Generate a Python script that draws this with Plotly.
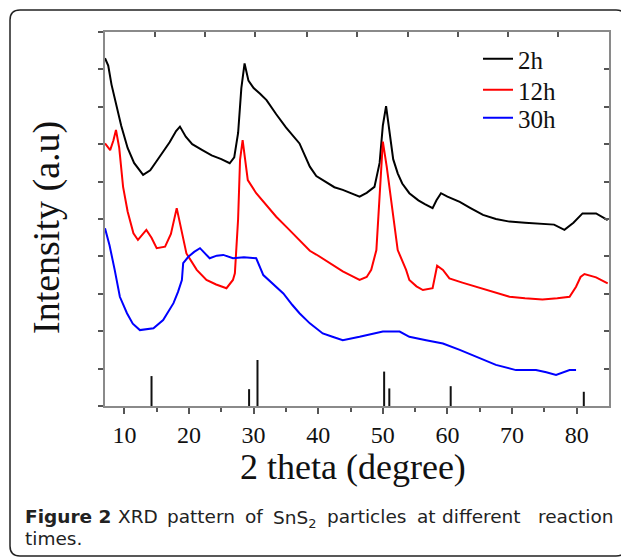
import plotly.graph_objects as go

# ---- data ----
x_2h = [7.0, 7.5, 8.0, 8.8, 9.5, 10.5, 11.5, 12.9, 14.0, 15.0, 16.0, 17.0, 18.0, 18.6, 19.5, 20.5,
        22.0, 23.5, 25.0, 26.3, 27.0, 27.6, 28.1, 28.6, 29.2, 30.0, 31.0, 32.0, 33.5, 35.0, 37.1,
        38.7, 39.7, 41.0, 42.5, 43.8, 45.0, 46.4, 47.5, 48.7, 49.5, 50.0, 50.5, 51.0, 51.6, 52.3,
        53.0, 54.1, 55.5, 56.5, 57.7, 58.3, 59.0, 60.0, 61.9, 63.5, 65.5, 67.5, 69.6, 72.0, 74.7,
        76.5, 78.1, 79.5, 80.9, 83.0, 84.8]
y_2h = [9.30, 9.10, 8.60, 8.00, 7.50, 6.90, 6.50, 6.18, 6.30, 6.55, 6.80, 7.05, 7.35, 7.47, 7.20, 7.00,
        6.85, 6.70, 6.60, 6.49, 6.65, 7.30, 8.50, 9.16, 8.70, 8.50, 8.35, 8.18, 7.80, 7.45, 7.02,
        6.40, 6.15, 6.00, 5.85, 5.78, 5.70, 5.60, 5.70, 5.86, 6.50, 7.50, 8.02, 7.30, 6.60, 6.22,
        5.95, 5.69, 5.50, 5.40, 5.29, 5.50, 5.69, 5.60, 5.46, 5.30, 5.11, 5.00, 4.93, 4.90, 4.88,
        4.85, 4.71, 4.90, 5.15, 5.15, 4.97]

x_12h = [7.0, 7.8, 8.3, 8.7, 9.2, 9.8, 10.5, 11.4, 12.1, 12.8, 13.4, 14.2, 15.0, 16.3, 17.2, 18.1,
         18.8, 19.6, 21.2, 22.7, 24.2, 25.8, 26.8, 27.1, 27.6, 27.9, 28.3, 29.1, 30.4, 32.0, 33.5,
         35.3, 37.1, 38.7, 39.7, 41.8, 43.8, 45.4, 46.4, 47.5, 48.2, 49.0, 49.5, 50.0, 50.6, 51.3,
         52.3, 53.6, 54.1, 55.2, 56.2, 57.7, 58.1, 58.4, 59.3, 60.3, 62.3, 64.4, 67.0, 69.6, 72.0,
         74.7, 77.0, 78.9, 79.9, 80.6, 81.2, 83.0, 84.8]
y_12h = [7.02, 6.84, 7.10, 7.38, 6.90, 5.86, 5.20, 4.62, 4.44, 4.60, 4.71, 4.50, 4.22, 4.26, 4.60, 5.29,
         4.70, 4.08, 3.64, 3.37, 3.25, 3.15, 3.37, 3.55, 5.00, 6.58, 7.11, 6.04, 5.69, 5.35, 5.06,
         4.75, 4.44, 4.15, 4.05, 3.82, 3.60, 3.46, 3.37, 3.45, 3.64, 4.17, 5.50, 7.07, 6.40, 5.51,
         4.17, 3.64, 3.37, 3.20, 3.10, 3.15, 3.50, 3.75, 3.64, 3.41, 3.30, 3.19, 3.05, 2.92, 2.88,
         2.85, 2.88, 2.92, 3.19, 3.45, 3.53, 3.44, 3.28]

x_30h = [7.0, 7.7, 8.5, 9.3, 10.4, 11.3, 12.4, 13.5, 14.5, 16.0, 17.6, 18.3, 18.9, 19.1, 19.9, 20.8,
         21.7, 23.2, 24.3, 25.3, 26.8, 28.5, 30.4, 31.5, 32.0, 33.3, 34.6, 36.0, 37.1, 38.7, 40.7,
         42.2, 43.8, 46.4, 48.3, 50.0, 52.6, 54.1, 56.7, 59.3, 61.9, 64.4, 66.0, 67.5, 70.6, 73.7,
         75.3, 76.8, 78.9, 79.9]
y_30h = [4.75, 4.30, 3.64, 2.92, 2.48, 2.20, 2.03, 2.05, 2.08, 2.30, 2.75, 3.05, 3.37, 3.82, 3.99, 4.12,
         4.22, 3.95, 4.02, 4.04, 3.95, 3.98, 3.95, 3.50, 3.42, 3.20, 3.01, 2.70, 2.48, 2.21, 1.94,
         1.85, 1.76, 1.85, 1.92, 1.99, 1.99, 1.85, 1.76, 1.67, 1.50, 1.32, 1.20, 1.10, 0.96, 0.96,
         0.90, 0.83, 0.96, 0.96]

ref_pos = [14.2, 29.3, 30.6, 50.2, 51.0, 60.5, 81.1]
ref_height = [0.80, 0.45, 1.23, 0.92, 0.47, 0.53, 0.38]

x_tick_vals = [10, 20, 30, 40, 50, 60, 70, 80]
x_tick_text = ["10", "20", "30", "40", "50", "60", "70", "80"]
x_minor_vals = [15, 25, 35, 45, 55, 65, 75]
top_tick_vals = [14.74, 22.47, 30.21, 38.2, 45.95, 53.85, 61.63, 69.4, 77.1]

series_names = ["2h", "12h", "30h"]
series_colors = ["#000000", "#ff0000", "#0000ff"]

caption_words = ["<b>Figure 2</b>", "XRD", "pattern", "of", "SnS<sub>2</sub>",
                 "particles", "at", "different", "reaction"]
caption_line2 = "times."

# ---- layout geometry (page pixels; page body adds an 8 px offset) ----
OFF = 8
W, H = 629 - OFF, 558 - OFF
PL, PR, PT, PB = 105, 609, 32, 406          # plot area in page pixels
L, T = PL - OFF, PT - OFF
R, B = W - (PR - OFF), H - (PB - OFF)
PW, PH = PR - PL, PB - PT


def px_x(px):
    return (px - PL) / PW


def px_y(py):
    return (PB - py) / PH


fig = go.Figure()

legend_ids = ["legend", "legend2", "legend3"]
for name, xs, ys, col, lg in zip(series_names, [x_2h, x_12h, x_30h], [y_2h, y_12h, y_30h],
                                 series_colors, legend_ids):
    fig.add_trace(go.Scatter(x=xs, y=ys, mode="lines", name=name, legend=lg,
                             line=dict(color=col, width=2)))

stick_x, stick_y = [], []
for p, h in zip(ref_pos, ref_height):
    stick_x += [p, p, None]
    stick_y += [0, h, None]
fig.add_trace(go.Scatter(x=stick_x, y=stick_y, mode="lines", showlegend=False,
                         line=dict(color="#111111", width=2), hoverinfo="skip"))

# invisible trace so the mirrored top/right axes are drawn
fig.add_trace(go.Scatter(x=[None], y=[None], xaxis="x2", yaxis="y2", mode="lines",
                         showlegend=False, hoverinfo="skip"))

serif = "Liberation Serif, Times New Roman, serif"
axis_gray = "#8a8a8a"
tick_col = "#555555"

legend_font = dict(family=serif, size=25, color="#111111")
legend_tops = [36, 67, 95]
legend_cfg = {}
for lg, top in zip(legend_ids, legend_tops):
    legend_cfg[lg] = dict(x=px_x(478), y=px_y(top), xanchor="left", yanchor="top",
                          font=legend_font, bgcolor="rgba(0,0,0,0)", borderwidth=0,
                          itemwidth=30)

fig.update_layout(
    width=W, height=H,
    margin=dict(l=L, r=R, t=T, b=B, pad=0),
    paper_bgcolor="white", plot_bgcolor="white",
    showlegend=True,
    **legend_cfg,
    xaxis=dict(range=[7, 85], tickvals=x_tick_vals, ticktext=x_tick_text,
               ticks="outside", ticklen=6, tickwidth=1.5, tickcolor=tick_col,
               minor=dict(tickvals=x_minor_vals, ticks="outside",
                          ticklen=4, tickwidth=1.5, tickcolor=tick_col),
               showline=True, linecolor=axis_gray, linewidth=2,
               showgrid=False, zeroline=False,
               tickfont=dict(family=serif, size=24, color="#111111")),
    yaxis=dict(range=[0, 10], dtick=1, tick0=0, showticklabels=False,
               ticks="outside", ticklen=5, tickwidth=1.5, tickcolor=tick_col,
               showline=True, linecolor=axis_gray, linewidth=2,
               showgrid=False, zeroline=False),
    xaxis2=dict(range=[7, 85], overlaying="x", side="top", tickvals=top_tick_vals,
                showticklabels=False, ticks="inside", ticklen=5, tickwidth=1.5,
                tickcolor=tick_col, showline=True, linecolor=axis_gray, linewidth=2,
                showgrid=False, zeroline=False),
    yaxis2=dict(range=[0, 10], overlaying="y", side="right", dtick=1, tick0=0,
                showticklabels=False, ticks="inside", ticklen=5, tickwidth=1.5,
                tickcolor=tick_col, showline=True, linecolor=axis_gray, linewidth=2,
                showgrid=False, zeroline=False),
)

# axis titles
fig.add_annotation(text="2 theta (degree)", xref="paper", yref="paper",
                   x=px_x(353), y=px_y(467), xanchor="center", yanchor="middle",
                   showarrow=False, font=dict(family=serif, size=36, color="#111111"))
fig.add_annotation(text="Intensity (a.u)", xref="paper", yref="paper",
                   x=px_x(46), y=px_y(228), xanchor="center", yanchor="middle",
                   textangle=-90, showarrow=False,
                   font=dict(family=serif, size=38, color="#111111"))

# caption (justified first line: each word placed at its position)
cap_font = dict(family="DejaVu Sans, Noto Sans, sans-serif", size=18.5, color="#222222")
word_starts = [25, 118, 167, 245, 273, 327, 417, 442, 538]
for w, xs in zip(caption_words, word_starts):
    fig.add_annotation(text=w, xref="paper", yref="paper", x=px_x(xs), y=px_y(516),
                       xanchor="left", yanchor="middle", showarrow=False, font=cap_font,
                       xshift=-2, yshift=(-3 if "<sub>" in w else 0))
fig.add_annotation(text=caption_line2, xref="paper", yref="paper", x=px_x(25), y=px_y(538),
                   xanchor="left", yanchor="middle", showarrow=False, font=cap_font, xshift=-2)

# rounded frame
fl, fr, ft, fb, rad = 10, 626, 10, 556, 10
x0, x1 = px_x(fl), px_x(fr)
y0, y1 = px_y(fb), px_y(ft)
rx, ry = rad / PW, rad / PH
path = (f"M {x0 + rx},{y1} L {x1 - rx},{y1} Q {x1},{y1} {x1},{y1 - ry} "
        f"L {x1},{y0 + ry} Q {x1},{y0} {x1 - rx},{y0} "
        f"L {x0 + rx},{y0} Q {x0},{y0} {x0},{y0 + ry} "
        f"L {x0},{y1 - ry} Q {x0},{y1} {x0 + rx},{y1} Z")
fig.add_shape(type="path", path=path, xref="paper", yref="paper",
              line=dict(color="#222222", width=1.5), layer="below")

fig.write_html("out.html")
